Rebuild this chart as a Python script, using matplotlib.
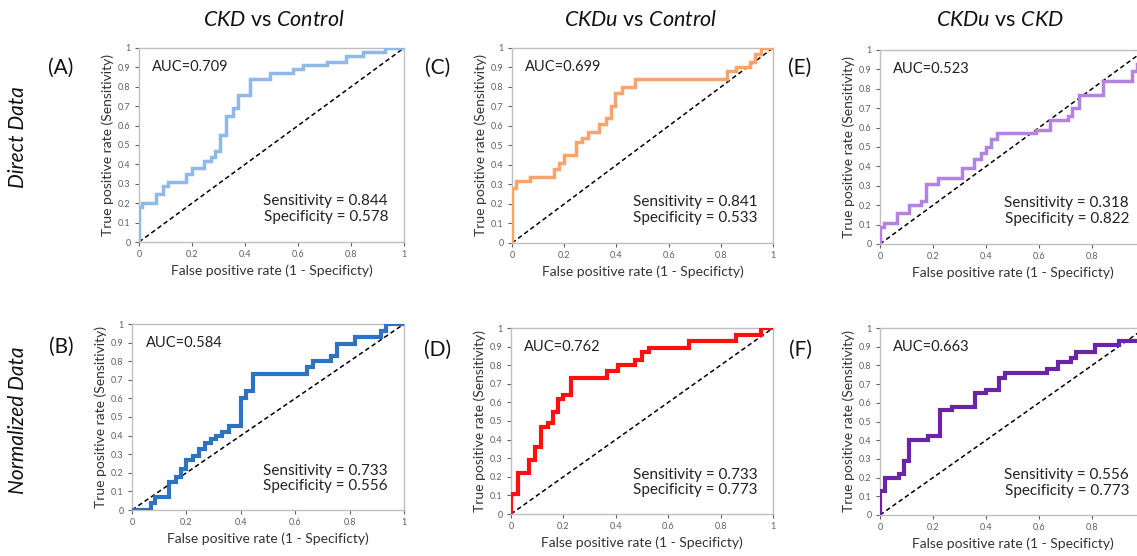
import matplotlib
matplotlib.use("Agg")
import matplotlib.pyplot as plt
import numpy as np

plt.rcParams['font.family'] = ['Lato', 'DejaVu Sans']
plt.rcParams['mathtext.fontset'] = 'custom'
plt.rcParams['mathtext.it'] = 'Lato:italic'
plt.rcParams['mathtext.rm'] = 'Lato'

# ---- data (step points: x where curve jumps up to y) ----
a_x = [0, 0, 0.01, 0.063, 0.09, 0.11, 0.176, 0.2, 0.244, 0.27, 0.286, 0.307, 0.33, 0.353, 0.374, 0.42, 0.494, 0.58, 0.62, 0.708, 0.78, 0.846, 0.93, 1.0]
a_y = [0, 0.18, 0.20, 0.25, 0.29, 0.31, 0.35, 0.38, 0.42, 0.44, 0.47, 0.55, 0.65, 0.69, 0.76, 0.84, 0.87, 0.89, 0.91, 0.93, 0.96, 0.98, 1.0, 1.0]

c_x = [0, 0, 0.015, 0.07, 0.16, 0.18, 0.2, 0.245, 0.27, 0.29, 0.335, 0.36, 0.38, 0.395, 0.42, 0.47, 0.825, 0.86, 0.91, 0.93, 0.955, 1.0]
c_y = [0, 0.28, 0.32, 0.34, 0.38, 0.41, 0.45, 0.52, 0.54, 0.57, 0.61, 0.64, 0.70, 0.77, 0.80, 0.84, 0.88, 0.90, 0.93, 0.97, 1.0, 1.0]

e_x = [0, 0, 0.015, 0.065, 0.11, 0.155, 0.175, 0.22, 0.31, 0.355, 0.38, 0.40, 0.42, 0.44, 0.59, 0.64, 0.71, 0.725, 0.75, 0.84, 0.95, 0.97, 1.0]
e_y = [0, 0.09, 0.11, 0.16, 0.20, 0.22, 0.31, 0.34, 0.39, 0.44, 0.47, 0.50, 0.54, 0.57, 0.59, 0.64, 0.66, 0.70, 0.77, 0.84, 0.89, 0.93, 0.95]

b_x = [0, 0.07, 0.085, 0.135, 0.16, 0.18, 0.2, 0.225, 0.245, 0.27, 0.29, 0.31, 0.33, 0.355, 0.40, 0.42, 0.445, 0.645, 0.665, 0.73, 0.755, 0.82, 0.915, 0.935, 1.0]
b_y = [0, 0.04, 0.07, 0.15, 0.18, 0.22, 0.27, 0.29, 0.33, 0.36, 0.38, 0.40, 0.42, 0.45, 0.60, 0.64, 0.73, 0.77, 0.80, 0.83, 0.89, 0.93, 0.96, 1.0, 1.0]

d_x = [0, 0, 0.025, 0.07, 0.09, 0.115, 0.14, 0.16, 0.18, 0.20, 0.23, 0.365, 0.41, 0.475, 0.50, 0.525, 0.68, 0.86, 0.955, 1.0]
d_y = [0, 0.11, 0.22, 0.29, 0.36, 0.47, 0.49, 0.55, 0.62, 0.64, 0.73, 0.77, 0.80, 0.83, 0.87, 0.89, 0.93, 0.96, 1.0, 1.0]

f_x = [0, 0, 0.02, 0.07, 0.09, 0.11, 0.18, 0.225, 0.27, 0.36, 0.40, 0.45, 0.47, 0.63, 0.67, 0.72, 0.74, 0.81, 0.90, 1.0]
f_y = [0, 0.13, 0.20, 0.22, 0.29, 0.40, 0.42, 0.56, 0.58, 0.65, 0.67, 0.73, 0.76, 0.78, 0.82, 0.84, 0.87, 0.91, 0.93, 0.93]

auc = ['0.709', '0.584', '0.699', '0.762', '0.523', '0.663']
sens = ['0.844', '0.733', '0.841', '0.733', '0.318', '0.556']
spec = ['0.578', '0.556', '0.533', '0.773', '0.822', '0.773']
panel_letters = ['(A)', '(B)', '(C)', '(D)', '(E)', '(F)']
col_titles = [r'$\it{CKD}$ vs $\it{Control}$', r'$\it{CKDu}$ vs $\it{Control}$', r'$\it{CKDu}$ vs $\it{CKD}$']
row_titles = ['Direct Data', 'Normalized Data']
x_tick_labels = ['0', '0.2', '0.4', '0.6', '0.8', '1']
y_tick_labels = ['0', '0.1', '0.2', '0.3', '0.4', '0.5', '0.6', '0.7', '0.8', '0.9', '1']

curves = [(a_x, a_y), (b_x, b_y), (c_x, c_y), (d_x, d_y), (e_x, e_y), (f_x, f_y)]
colors = ['#8FB9E6', '#2E73C0', '#F6A56E', '#FF1010', '#B383E2', '#6A24A6']
lws = [2.5, 3.0, 2.5, 3.0, 2.5, 3.0]

W, H = 1137, 556
fig = plt.figure(figsize=(W / 100, H / 100), dpi=100)

# axes boxes in pixels: left, right(x=1), top(y=1), bottom(y=0)
boxes = [
    (139, 404, 48, 242),
    (132, 404, 324, 510),
    (512, 773, 48, 243),
    (511, 773, 328, 514),
    (880, 1145, 50, 244),
    (880, 1145, 328, 515),
]

gray = '#BFBFBF'
for i, (box, (xs, ys)) in enumerate(zip(boxes, curves)):
    l, r, t, b = box
    ax = fig.add_axes([l / W, 1 - b / H, (r - l) / W, (b - t) / H])
    ax.set_xlim(0, 1)
    ax.set_ylim(0, 1)
    ax.plot([0, 1], [0, 1], linestyle=(0, (3, 2)), color='black', lw=1.1, zorder=2)
    ax.step(xs, ys, where='post', color=colors[i], lw=lws[i], zorder=3,
            solid_joinstyle='miter')
    ax.set_xticks(np.arange(0, 1.01, 0.2))
    xl = list(x_tick_labels)
    if i >= 4:
        xl[-1] = ''  # falls outside the figure edge
    ax.set_xticklabels(xl)
    ax.set_yticks(np.arange(0, 1.01, 0.1))
    ax.set_yticklabels(y_tick_labels)
    ax.tick_params(axis='both', labelsize=6.5, colors='#606060', length=3, width=0.8,
                   direction='out', pad=3)
    for sp in ax.spines.values():
        sp.set_color(gray)
        sp.set_linewidth(1.0)
    ax.set_xlabel('False positive rate (1 - Specificty)', fontsize=10, color='#333333', labelpad=4)
    ax.set_ylabel('True positive rate (Sensitivity)', fontsize=10, color='#333333', labelpad=3)
    ax.text(0.05, 0.9, 'AUC=' + auc[i], transform=ax.transAxes, fontsize=10.5,
            color='#222222', va='center', ha='left')
    ax.text(0.94, 0.17, 'Sensitivity = ' + sens[i] + '\nSpecificity = ' + spec[i],
            transform=ax.transAxes, fontsize=11, color='#222222', va='center',
            ha='right', linespacing=1.15)

# panel letters
letter_pos = [(61, 68), (61, 347), (438, 68), (438, 350), (800, 68), (800, 350)]
for txt, (px, py) in zip(panel_letters, letter_pos):
    fig.text(px / W, 1 - py / H, txt, fontsize=15, ha='center', va='center', color='#111111')

# column titles
for txt, px in zip(col_titles, [274, 641, 1000]):
    fig.text(px / W, 1 - 20 / H, txt, fontsize=15.5, ha='center', va='center', color='#111111')

# row titles
for txt, py in zip(row_titles, [137, 420]):
    fig.text(18 / W, 1 - py / H, txt, fontsize=15, ha='center', va='center', rotation=90,
             style='italic', color='#111111')

fig.savefig('out.png', dpi=100)
